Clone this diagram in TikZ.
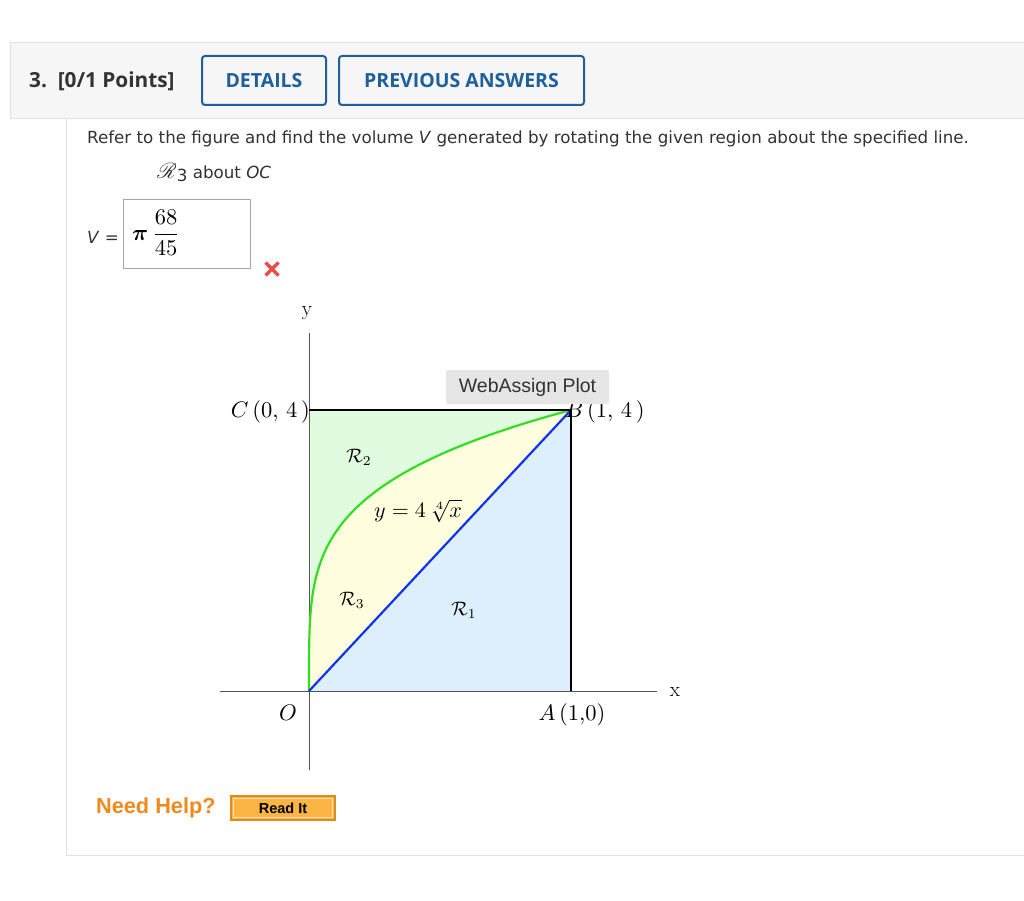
\documentclass[tikz,border=0pt]{standalone}
\usepackage{amsmath}
\usepackage{mathrsfs}
\usepackage{graphicx}
\usepackage{fontspec}
\newfontfamily\verd{DejaVu Sans}
\newfontfamily\opens{Open Sans}
\newfontfamily\arialf{Liberation Sans}
\newcommand\mysc[2]{\scalebox{#1}{#2}}
\definecolor{hdrbg}{HTML}{F6F6F6}
\definecolor{hdrline}{HTML}{E2E2E2}
\definecolor{btnblue}{HTML}{1F5F9C}
\definecolor{txtgray}{HTML}{333333}
\definecolor{fillblue}{HTML}{DDEEFC}
\definecolor{fillyellow}{HTML}{FFFFDF}
\definecolor{fillgreen}{HTML}{E0FBE0}
\definecolor{curvegreen}{HTML}{33DD22}
\definecolor{lineblue}{HTML}{1133EE}
\definecolor{axisgray}{HTML}{555555}
\definecolor{needorange}{HTML}{F08A1C}
\definecolor{readfill}{HTML}{FBB544}
\definecolor{readborder}{HTML}{E08A20}
\definecolor{xred}{HTML}{EE4B4B}
\definecolor{tipbg}{HTML}{E6E6E6}
\tikzset{
  btn/.style={draw=btnblue, line width=2pt, rounded corners=3pt, text=btnblue, font=\opens\bfseries\fontsize{19.5}{22}\selectfont, inner sep=0pt},
  bodytxt/.style={font=\verd\fontsize{16.7}{19}\selectfont, text=txtgray, inner sep=0pt},
  mathlbl/.style={inner sep=0pt},
}
\begin{document}
\begin{tikzpicture}[x=1pt,y=-1pt]
\useasboundingbox (0,0) rectangle (1024,901);
\fill[white] (0,0) rectangle (1024,901);
% header panel
\fill[hdrbg] (10,42) rectangle (1024,118);
\draw[hdrline] (1024,42) -- (10,42) -- (10,118) -- (1024,118);
\node[anchor=west, font=\opens\bfseries\fontsize{20.8}{22}\selectfont, text=txtgray, inner sep=0pt] (pts) at (29,81) {3.\ \ [0/1 Points]};
\node[btn, minimum width=124pt, minimum height=49pt] (details) at (264,80.5) {DETAILS};
\node[btn, minimum width=245pt, minimum height=49pt] (prev) at (461.5,80.5) {PREVIOUS ANSWERS};
% content panel
\draw[hdrline] (66,118) -- (66,855) -- (1024,855);
\node[bodytxt, anchor=west] (q) at (87,139) {Refer to the figure and find the volume \textit{V} generated by rotating the given region about the specified line.};
\node[bodytxt, anchor=west] (sub) at (157,173) {\mysc{1.25}{$\mathscr{R}$}\raisebox{-3pt}{3} about \textit{OC}};
\node[bodytxt, anchor=west] (veq) at (87,237) {\textit{V} =};
\node[draw=gray!70, line width=0.8pt, minimum width=127pt, minimum height=69pt, inner sep=0pt] (ansbox) at (186.5,233.5) {};
\node[anchor=west, inner sep=0pt] (ans) at (132,233) {\mysc{2.25}{$\boldsymbol{\pi}\,\dfrac{68}{45}$}};
\coordinate (xc) at (272,269);
\draw[xred, line width=3.4pt] ([shift={(-6.5,-6.5)}]xc) -- ([shift={(6.5,6.5)}]xc);
\draw[xred, line width=3.4pt] ([shift={(-6.5,6.5)}]xc) -- ([shift={(6.5,-6.5)}]xc);
% plot
\coordinate (O) at (309,691);
\coordinate (A) at (571,691);
\coordinate (B) at (571,410);
\coordinate (C) at (309,410);
\fill[fillblue] (O) -- (A) -- (B) -- cycle;
\fill[fillyellow] (O) -- plot[domain=0:1, samples=120, variable=\u] ({309+262*\u*\u*\u*\u},{691-281*\u}) -- cycle;
\fill[fillgreen] (C) -- (O) -- plot[domain=0:1, samples=120, variable=\u] ({309+262*\u*\u*\u*\u},{691-281*\u}) -- cycle;
\draw[axisgray, line width=1pt] (220,691) -- (657,691);
\draw[axisgray, line width=1pt] (309,333) -- (309,770);
\draw[curvegreen, line width=2.2pt] plot[domain=0:1, samples=120, variable=\u] ({309+262*\u*\u*\u*\u},{691-281*\u});
\draw[lineblue, line width=2.2pt] (O) -- (B);
\draw[black, line width=2pt] (C) -- (B) -- (A);
\node[font=\fontsize{21}{22}\selectfont, inner sep=0pt] (ylab) at (307,313) {y};
\node[font=\fontsize{21}{22}\selectfont, inner sep=0pt] (xlab) at (675,692) {x};
\node[mathlbl, anchor=east] (Clab) at (310,412) {\mysc{2.25}{$C\,(0,\,4\,)$}};
\node[mathlbl, anchor=west] (Blab) at (565,412) {\mysc{2.25}{$B\,(1,\,4\,)$}};
\node[mathlbl] (Olab) at (288,713) {\mysc{2.25}{$O$}};
\node[mathlbl] (Alab) at (572,715) {\mysc{2.25}{$A\,(1{,}0)$}};
\node[mathlbl] (R2) at (359,457) {\mysc{1.95}{$\mathcal{R}_2$}};
\node[mathlbl] (R3) at (352,600) {\mysc{1.95}{$\mathcal{R}_3$}};
\node[mathlbl] (R1) at (464,610) {\mysc{1.95}{$\mathcal{R}_1$}};
\node[mathlbl] (curvelbl) at (418,511) {\mysc{2.2}{$y = 4\,\sqrt[4]{x}$}};
\node[fill=tipbg, rounded corners=2pt, minimum width=163pt, minimum height=34pt, inner sep=0pt, font=\arialf\fontsize{19.5}{21}\selectfont, text=black!80] (tip) at (527.5,387) {WebAssign Plot};
% help
\node[anchor=west, inner sep=0pt, font=\arialf\bfseries\fontsize{21.7}{24}\selectfont, text=needorange] (help) at (96,808) {Need Help?};
\node[draw=readborder, line width=1.2pt, fill=readfill, minimum width=104pt, minimum height=24pt, inner sep=0pt] (readbtn) at (283,808) {};
\draw[white!60!readfill, line width=0.8pt] ([shift={(3,3)}]readbtn.north west) rectangle ([shift={(-3,-3)}]readbtn.south east);
\node[inner sep=0pt, font=\arialf\bfseries\fontsize{14.5}{16}\selectfont] (readtxt) at (283,808.5) {Read It};
\end{tikzpicture}
\end{document}
